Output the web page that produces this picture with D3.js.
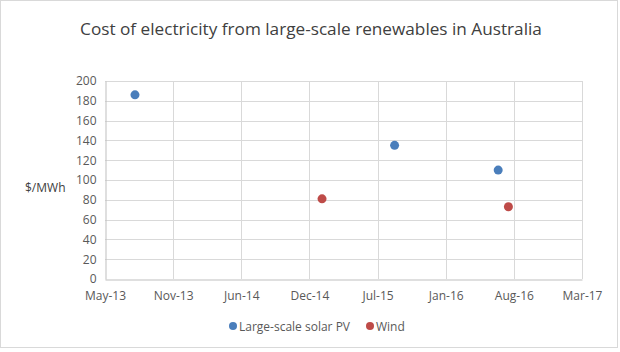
<!DOCTYPE html>
<html>
<head>
<meta charset="utf-8">
<script src="https://cdn.jsdelivr.net/npm/d3@7"></script>
<style>
  body { margin: 0; background: #fff; }
  text { font-family: "Open Sans", "Noto Sans", sans-serif; }
</style>
</head>
<body>
<div id="chart"></div>
<script>
// Chart data
var solarDates = ["2013-07-28", "2015-08-29", "2016-06-28"];
var solarCost = [186, 135, 110];
var windDates = ["2015-01-28", "2016-07-28"];
var windCost = [81, 73];
var seriesNames = ["Large-scale solar PV", "Wind"];
var seriesColors = ["#4a7ebb", "#be4b48"];
var yTicks = [0, 20, 40, 60, 80, 100, 120, 140, 160, 180, 200];
// Excel style date axis: 1 May 2013 to 1 Mar 2017, a tick every 200 days
var xStart = new Date(2013, 4, 1), xEnd = new Date(2017, 2, 1), xStepDays = 200;

var width = 620, height = 352;
var margin = {left: 105, right: 38, top: 81, bottom: 73};

var svg = d3.select("#chart").append("svg")
    .attr("width", width)
    .attr("height", height);

// outer border
svg.append("rect")
    .attr("x", 0.5).attr("y", 0.5)
    .attr("width", width - 3).attr("height", height - 5)
    .attr("fill", "#fff")
    .attr("stroke", "#d9d9d9");

var x = d3.scaleTime()
    .domain([xStart, xEnd])
    .range([margin.left, width - margin.right]);
var y = d3.scaleLinear()
    .domain([0, 200])
    .range([height - margin.bottom, margin.top]);

var xTicks = [];
for (var t = +xStart; t <= +xEnd + 1e7; t += xStepDays * 864e5) xTicks.push(new Date(t));

// gridlines
var grid = svg.append("g").attr("class", "grid");
grid.selectAll("line.h")
    .data(yTicks.slice(1))
    .enter().append("line")
    .attr("x1", margin.left).attr("x2", width - margin.right)
    .attr("y1", function(d){return Math.round(y(d)) + 0.5;})
    .attr("y2", function(d){return Math.round(y(d)) + 0.5;})
    .attr("stroke", "#d9d9d9");
grid.selectAll("line.v")
    .data(xTicks.slice(1))
    .enter().append("line")
    .attr("y1", y(0)).attr("y2", y(200))
    .attr("x1", function(d){return Math.round(x(d)) + 0.5;})
    .attr("x2", function(d){return Math.round(x(d)) + 0.5;})
    .attr("stroke", "#d9d9d9");

// axes
var fmt = d3.timeFormat("%b-%y");
var xAxis = svg.append("g")
    .attr("transform", "translate(0," + (Math.round(y(0)) + 0.5) + ")")
    .call(d3.axisBottom(x).tickValues(xTicks).tickFormat(fmt).tickSize(0).tickPadding(12));
var yAxis = svg.append("g")
    .attr("transform", "translate(" + (Math.round(x(xStart)) + 0.5) + ",0)")
    .call(d3.axisLeft(y).tickValues(yTicks).tickSize(0).tickPadding(9));
[xAxis, yAxis].forEach(function(a){
    a.select(".domain").attr("stroke", "#bfbfbf");
    a.selectAll("text")
	.attr("fill", "#595959")
	.style("font-size", "12px")
	.style("font-family", "\"Open Sans\", sans-serif");
});

// title and axis label
svg.append("text")
    .attr("x", 311).attr("y", 35)
    .attr("text-anchor", "middle")
    .attr("fill", "#404040")
    .style("font-size", "17.2px")
    .text("Cost of electricity from large-scale renewables in Australia");

svg.append("text")
    .attr("x", 25).attr("y", 192)
    .attr("fill", "#404040")
    .style("font-size", "12px")
    .text("$/MWh");

// points
var series = [
    {name: seriesNames[0], color: seriesColors[0], dates: solarDates, values: solarCost},
    {name: seriesNames[1], color: seriesColors[1], dates: windDates, values: windCost}
];
var parse = d3.timeParse("%Y-%m-%d");
series.forEach(function(s){
    svg.append("g").selectAll("circle")
	.data(s.dates.map(function(d, i){return {date: parse(d), value: s.values[i]};}))
	.enter().append("circle")
	.attr("cx", function(d){return x(d.date);})
	.attr("cy", function(d){return y(d.value);})
	.attr("r", 4.5)
	.attr("fill", s.color);
});

// legend
var legend = svg.append("g").attr("transform", "translate(233,326)");
var lx = 0;
series.forEach(function(s){
    var g = legend.append("g").attr("transform", "translate(" + lx + ",0)");
    g.append("circle").attr("r", 4).attr("fill", s.color);
    var txt = g.append("text")
	.attr("x", 6).attr("y", 4.5)
	.attr("fill", "#595959")
	.style("font-size", "12px")
	.text(s.name);
    lx += 6 + txt.node().getComputedTextLength() + 20;
});
</script>
</body>
</html>
